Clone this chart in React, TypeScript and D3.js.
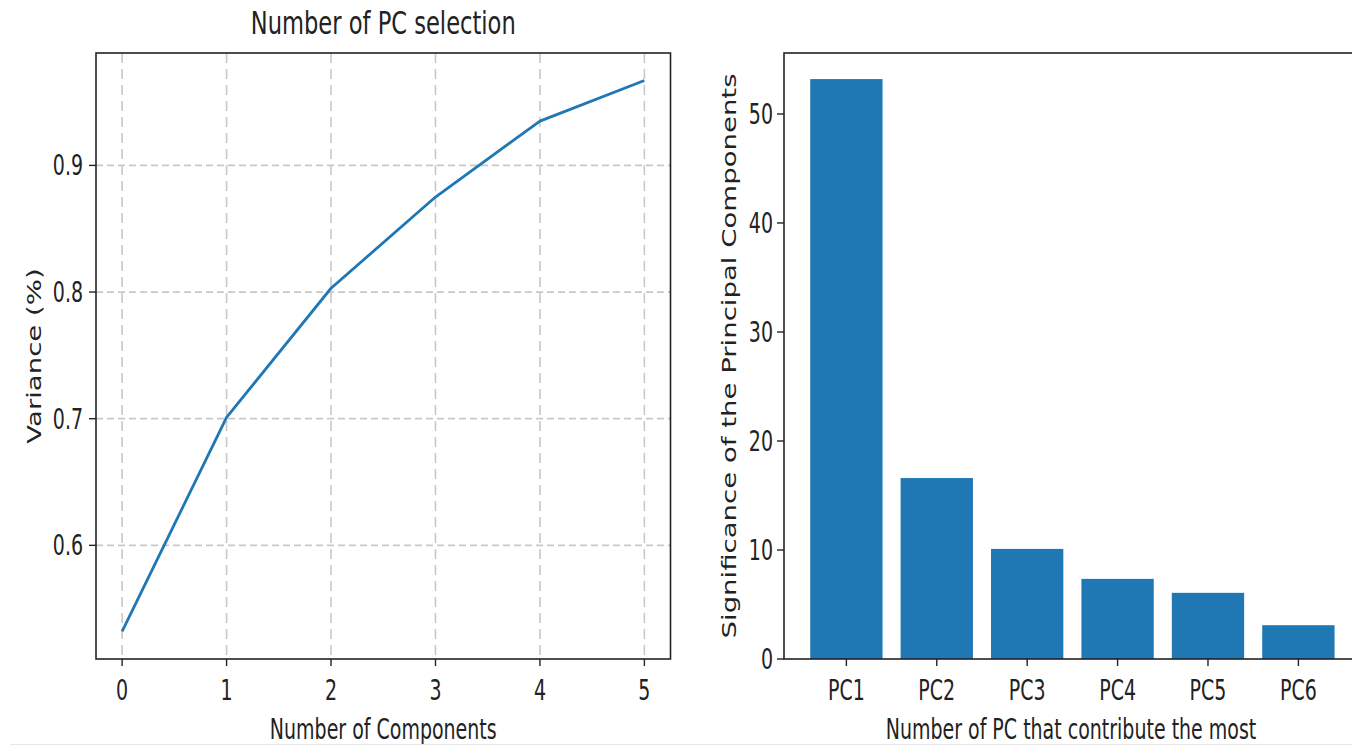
import React from "react";
import * as d3 from "d3";

const components = [0, 1, 2, 3, 4, 5];
const cumulativeVariance = [0.532, 0.701, 0.803, 0.875, 0.935, 0.967];
const leftYTicks = [0.6, 0.7, 0.8, 0.9];
const leftXTicks = [0, 1, 2, 3, 4, 5];

const pcLabels = ["PC1", "PC2", "PC3", "PC4", "PC5", "PC6"];
const pcSignificance = [53.2, 16.6, 10.1, 7.35, 6.07, 3.1];
const rightYTicks = [0, 10, 20, 30, 40, 50];

const W = 1352;
const H = 746;
const FONT = "DejaVu Sans, sans-serif";
const FS = 19;
const SY = 1.45;
const BLUE = "#1f77b4";
const SPINE = "#222";

function HText(props: { x: number; y: number; size?: number; anchor?: string; children: React.ReactNode }) {
  const { x, y, size = FS, anchor = "middle", children } = props;
  return (
    <text
      transform={`translate(${x},${y}) scale(1,${SY})`}
      fontSize={size}
      fontFamily={FONT}
      textAnchor={anchor as any}
      fill="#222"
    >
      {children}
    </text>
  );
}

function VText(props: { x: number; y: number; size?: number; children: React.ReactNode }) {
  const { x, y, size = FS, children } = props;
  return (
    <text
      transform={`translate(${x},${y}) rotate(-90) scale(${SY},1)`}
      fontSize={size}
      fontFamily={FONT}
      textAnchor="middle"
      fill="#222"
    >
      {children}
    </text>
  );
}

export default function App() {
  // Left panel
  const lTop = 53, lBottom = 659, lLeft = 96, lRight = 670.5;
  const vMin = d3.min(cumulativeVariance)!;
  const vMax = d3.max(cumulativeVariance)!;
  const vPad = (vMax - vMin) * 0.05;
  const xL = d3.scaleLinear().domain([-0.25, 5.25]).range([lLeft, lRight]);
  const yL = d3.scaleLinear().domain([vMin - vPad, vMax + vPad]).range([lBottom, lTop]);
  const linePath = d3
    .line<number>()
    .x((_, i) => xL(components[i]))
    .y((d) => yL(d))(cumulativeVariance)!;

  // Right panel
  const rTop = 53, rBottom = 659, rLeft = 784;
  const n = pcLabels.length;
  const pxPerUnit = 90.4;
  const xR = d3
    .scaleLinear()
    .domain([-0.69, n - 1 + 0.69])
    .range([rLeft, rLeft + pxPerUnit * (n - 1 + 1.38)]);
  const sMax = d3.max(pcSignificance)! * 1.045;
  const yR = d3.scaleLinear().domain([0, sMax]).range([rBottom, rTop]);
  const barW = 0.8;

  return (
    <svg
      width={W}
      height={H}
      style={{ position: "absolute", left: 0, top: 0, background: "#fff" }}
    >
      <rect x={0} y={0} width={W} height={H} fill="#fff" />

      {/* ===== Left panel ===== */}
      <HText x={(lLeft + lRight) / 2} y={34} size={22.6}>
        Number of PC selection
      </HText>

      {/* grid */}
      {leftXTicks.map((t) => (
        <line
          key={"gx" + t}
          x1={xL(t)}
          x2={xL(t)}
          y1={lTop}
          y2={lBottom}
          stroke="#c8c8c8"
          strokeWidth={1.6}
          strokeDasharray="10,6"
        />
      ))}
      {leftYTicks.map((t) => (
        <line
          key={"gy" + t}
          x1={lLeft}
          x2={lRight}
          y1={yL(t)}
          y2={yL(t)}
          stroke="#c8c8c8"
          strokeWidth={1.8}
          strokeDasharray="7,4"
        />
      ))}

      <path d={linePath} fill="none" stroke={BLUE} strokeWidth={2.8} strokeLinejoin="round" />

      <rect
        x={lLeft}
        y={lTop}
        width={lRight - lLeft}
        height={lBottom - lTop}
        fill="none"
        stroke={SPINE}
        strokeWidth={1.6}
      />

      {leftXTicks.map((t) => (
        <g key={"tx" + t}>
          <line x1={xL(t)} x2={xL(t)} y1={lBottom} y2={lBottom + 7} stroke={SPINE} strokeWidth={1.4} />
          <HText x={xL(t)} y={700}>{String(t)}</HText>
        </g>
      ))}
      {leftYTicks.map((t) => (
        <g key={"ty" + t}>
          <line x1={lLeft - 7} x2={lLeft} y1={yL(t)} y2={yL(t)} stroke={SPINE} strokeWidth={1.4} />
          <HText x={lLeft - 13} y={yL(t) + 10} anchor="end">
            {t.toFixed(1)}
          </HText>
        </g>
      ))}

      <HText x={(lLeft + lRight) / 2} y={739}>Number of Components</HText>
      <VText x={41} y={356}>Variance (%)</VText>

      {/* ===== Right panel ===== */}
      {pcSignificance.map((v, i) => (
        <rect
          key={"bar" + i}
          x={xR(i - barW / 2)}
          y={yR(v)}
          width={xR(i + barW / 2) - xR(i - barW / 2)}
          height={yR(0) - yR(v)}
          fill={BLUE}
        />
      ))}

      <rect
        x={rLeft}
        y={rTop}
        width={xR(n - 1 + 0.69) - rLeft}
        height={rBottom - rTop}
        fill="none"
        stroke={SPINE}
        strokeWidth={1.6}
      />

      {pcLabels.map((lab, i) => (
        <g key={"rx" + i}>
          <line x1={xR(i)} x2={xR(i)} y1={rBottom} y2={rBottom + 7} stroke={SPINE} strokeWidth={1.4} />
          <HText x={xR(i)} y={700}>{lab}</HText>
        </g>
      ))}
      {rightYTicks.map((t) => (
        <g key={"ry" + t}>
          <line x1={rLeft - 7} x2={rLeft} y1={yR(t)} y2={yR(t)} stroke={SPINE} strokeWidth={1.4} />
          <HText x={rLeft - 11} y={yR(t) + 10} anchor="end">
            {String(t)}
          </HText>
        </g>
      ))}

      <HText x={1071} y={739}>Number of PC that contribute the most</HText>
      <VText x={736} y={356}>Significance of the Principal Components</VText>

      <line x1={10} x2={W} y1={744.5} y2={744.5} stroke="#e6e6e6" strokeWidth={1} />
    </svg>
  );
}
